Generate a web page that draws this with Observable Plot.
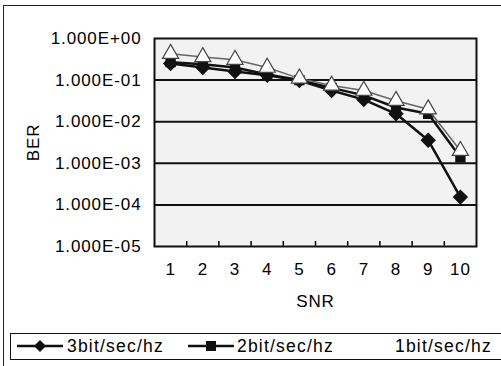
<!DOCTYPE html>
<html><head><meta charset="utf-8">
<script src="https://cdn.jsdelivr.net/npm/d3@7"></script>
<script src="https://cdn.jsdelivr.net/npm/@observablehq/plot@0.6"></script>
<style>
body{margin:0;background:#fff;width:501px;height:366px;overflow:hidden;position:relative;font-family:"Liberation Sans",Arial,sans-serif;}
#outer{position:absolute;left:3px;top:5px;width:505px;height:365px;border:1.5px solid #222;box-sizing:border-box;}
#chart{position:absolute;left:0;top:0;}
#chart svg text{letter-spacing:0.9px;}
#legend{position:absolute;left:10px;top:333px;width:500px;height:27px;border:1.5px solid #111;box-sizing:border-box;font-size:17.5px;letter-spacing:1.2px;color:#000;}
#legend .it{position:absolute;top:0;height:24px;line-height:24px;white-space:nowrap;}
#legend svg{position:absolute;top:5px;}
</style></head>
<body>
<div id="outer"></div>
<div id="chart"></div>
<div id="legend"></div>
<script>
const snr = [1, 2, 3, 4, 5, 6, 7, 8, 9, 10];
const ber3bit = [0.25, 0.20, 0.16, 0.13, 0.098, 0.056, 0.034, 0.0155, 0.0036, 0.000154];
const ber2bit = [0.27, 0.24, 0.20, 0.137, 0.10, 0.065, 0.043, 0.022, 0.0155, 0.0014];
const ber1bit = [0.43, 0.36, 0.31, 0.20, 0.11, 0.074, 0.056, 0.032, 0.020, 0.002];
const seriesNames = ["3bit/sec/hz", "2bit/sec/hz", "1bit/sec/hz"];
const yTicks = [1, 1e-1, 1e-2, 1e-3, 1e-4, 1e-5];
const gridValues = [1e-1, 1e-2, 1e-3, 1e-4];
const boundaries = [1.5, 2.5, 3.5, 4.5, 5.5, 6.5, 7.5, 8.5, 9.5];

const rows = (vals) => snr.map((s, i) => ({snr: s, ber: vals[i]}));
const d3b = rows(ber3bit), d2b = rows(ber2bit), d1b = rows(ber1bit);

const fmt = v => {
  const e = Math.round(Math.log10(v));
  const s = e < 0 ? "-" : "+";
  return "1.000E" + s + String(Math.abs(e)).padStart(2, "0");
};

const chart = Plot.plot({
  width: 501, height: 322,
  marginLeft: 154, marginRight: 25, marginTop: 38, marginBottom: 76,
  style: {fontFamily: "Liberation Sans, Arial, sans-serif", fontSize: "17px", color: "#000", background: "transparent"},
  x: {type: "linear", domain: [0.5, 10.5]},
  y: {type: "log", domain: [1e-5, 1]},
  marks: [
    Plot.frame({fill: "#f2f2f2"}),
    Plot.ruleY(gridValues, {stroke: "#111", strokeWidth: 2}),
    Plot.axisX({ticks: boundaries, tickSize: -5, tickFormat: () => "", label: null, strokeWidth: 1.5}),
    Plot.axisX({ticks: snr, tickSize: 0, tickPadding: 16, tickFormat: d => String(d), label: "SNR", labelAnchor: "center", labelOffset: 60, labelArrow: "none"}),
    Plot.axisY({ticks: yTicks, tickSize: 0, tickPadding: 13, tickFormat: fmt, label: "BER", labelAnchor: "center", labelOffset: 128, labelArrow: "none"}),
    Plot.frame({stroke: "#111", strokeWidth: 2}),
    Plot.line(d3b, {x: "snr", y: "ber", stroke: "#111", strokeWidth: 2.5}),
    Plot.dot(d3b, {x: "snr", y: "ber", symbol: "diamond2", r: 6, fill: "#111", stroke: "#111"}),
    Plot.line(d2b, {x: "snr", y: "ber", stroke: "#111", strokeWidth: 2.5}),
    Plot.dot(d2b, {x: "snr", y: "ber", symbol: "square", r: 5, fill: "#111", stroke: "#111"}),
    Plot.line(d1b, {x: "snr", y: "ber", stroke: "#666", strokeWidth: 1.5}),
    Plot.dot(d1b, {x: "snr", y: "ber", symbol: "triangle", r: 6, fill: "#fff", stroke: "#444", strokeWidth: 1.2})
  ]
});
document.getElementById("chart").appendChild(chart);

// legend
const leg = document.getElementById("legend");
const swatch = (left, sym) => {
  const s = `<svg width="46" height="14" style="left:${left}px">` +
    `<line x1="0" y1="7" x2="46" y2="7" stroke="#111" stroke-width="2.5"/>` +
    (sym === "diamond" ? `<path d="M23,1 L29,7 L23,13 L17,7 Z" fill="#111"/>` :
                         `<rect x="18" y="2" width="10" height="10" fill="#111"/>`) + `</svg>`;
  return s;
};
leg.innerHTML =
  swatch(6, "diamond") + `<div class="it" style="left:56px">${seriesNames[0]}</div>` +
  swatch(177, "square") + `<div class="it" style="left:226px">${seriesNames[1]}</div>` +
  `<div class="it" style="left:384px">${seriesNames[2]}</div>`;
</script>
</body></html>
